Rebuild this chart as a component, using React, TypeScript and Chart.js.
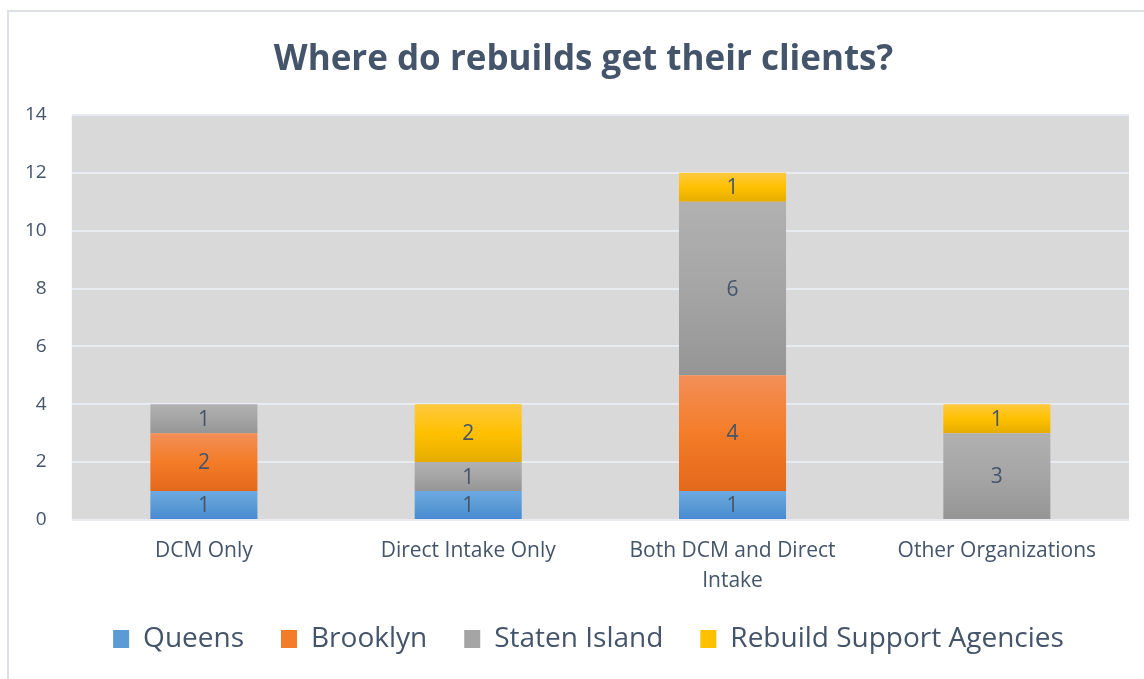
import React, { useEffect, useRef } from "react";
import { Chart, registerables } from "chart.js";

Chart.register(...registerables);

const categories: (string | string[])[] = [
  "DCM Only",
  "Direct Intake Only",
  ["Both DCM and Direct", "Intake"],
  "Other Organizations",
];
const seriesNames = ["Queens", "Brooklyn", "Staten Island", "Rebuild Support Agencies"];
const queens = [1, 1, 1, 0];
const brooklyn = [2, 0, 4, 0];
const statenIsland = [1, 1, 6, 3];
const rebuildSupport = [0, 2, 1, 1];
const yTicks = [0, 2, 4, 6, 8, 10, 12, 14];

const seriesData = [queens, brooklyn, statenIsland, rebuildSupport];
const palettes = [
  ["#6DA9E2", "#5B9BD5", "#4689D1"],
  ["#F28F58", "#F47C28", "#E4681A"],
  ["#B1B1B1", "#A5A5A5", "#959595"],
  ["#FFC93F", "#FFC000", "#E5AD00"],
];

const TEXT = "#44546A";
const FONT = "'Open Sans', 'Noto Sans', sans-serif";

const plotBg = {
  id: "plotBg",
  beforeDraw(chart: any) {
    const { ctx, chartArea } = chart;
    if (!chartArea) return;
    ctx.save();
    ctx.fillStyle = "#D9D9D9";
    ctx.fillRect(chartArea.left, chartArea.top, chartArea.right - chartArea.left, chartArea.bottom - chartArea.top);
    ctx.restore();
  },
};

// The original chart frame extends past the right edge of the picture,
// so its title and legend sit slightly right of the visible centre.
const shiftBlocks = {
  id: "shiftBlocks",
  afterLayout(chart: any) {
    const t = chart.titleBlock;
    if (t) {
      t.left += 19;
      t.right += 19;
    }
    const l = chart.legend;
    if (l) {
      l.left += 24;
      l.right += 24;
    }
  },
};

const valueLabels = {
  id: "valueLabels",
  afterDatasetsDraw(chart: any) {
    const { ctx } = chart;
    ctx.save();
    ctx.fillStyle = TEXT;
    ctx.font = `21px ${FONT}`;
    ctx.textAlign = "center";
    ctx.textBaseline = "middle";
    chart.data.datasets.forEach((ds: any, di: number) => {
      const meta = chart.getDatasetMeta(di);
      meta.data.forEach((el: any, i: number) => {
        const v = ds.data[i];
        if (!v) return;
        ctx.fillText(String(v), el.x, (el.y + el.base) / 2 + 1);
      });
    });
    ctx.restore();
  },
};

function gradientFor(di: number) {
  return (c: any) => {
    const pal = palettes[di];
    const chart = c.chart;
    const y = chart.scales && chart.scales.y;
    if (!y || c.type !== "data") return pal[1];
    const i = c.dataIndex;
    let base = 0;
    for (let d = 0; d < di; d++) base += seriesData[d][i];
    const v = seriesData[di][i];
    const top = y.getPixelForValue(base + v);
    const bottom = y.getPixelForValue(base);
    if (!isFinite(top) || !isFinite(bottom) || top === bottom) return pal[1];
    const g = chart.ctx.createLinearGradient(0, top, 0, bottom);
    g.addColorStop(0, pal[0]);
    g.addColorStop(0.5, pal[1]);
    g.addColorStop(1, pal[2]);
    return g;
  };
}

export default function App() {
  const ref = useRef<HTMLCanvasElement>(null);
  useEffect(() => {
    if (!ref.current) return;
    const chart = new Chart(ref.current, {
      type: "bar",
      data: {
        labels: categories,
        datasets: seriesData.map((d, di) => ({
          label: seriesNames[di],
          data: d,
          backgroundColor: gradientFor(di) as any,
          borderWidth: 0,
          categoryPercentage: 1,
          barPercentage: 0.405,
        })),
      },
      options: {
        responsive: false,
        animation: false,
        devicePixelRatio: 1,
        layout: { padding: { left: 0, right: 15, top: 0, bottom: 16 } },
        plugins: {
          title: {
            display: true,
            text: "Where do rebuilds get their clients?",
            color: TEXT,
            font: { family: FONT, size: 35, weight: "bold" },
            padding: { top: 39, bottom: 34 },
          },
          legend: {
            position: "bottom",
            labels: {
              color: TEXT,
              font: { family: FONT, size: 28 },
              boxWidth: 16,
              boxHeight: 18,
              padding: 37,
              generateLabels: (chart: any) =>
                chart.data.datasets.map((ds: any, i: number) => ({
                  text: ds.label,
                  fillStyle: palettes[i][1],
                  strokeStyle: palettes[i][1],
                  lineWidth: 0,
                  fontColor: TEXT,
                  datasetIndex: i,
                  hidden: false,
                })),
            },
          },
          tooltip: { enabled: false },
        },
        scales: {
          x: {
            stacked: true,
            grid: { display: false, drawTicks: false },
            border: { display: false },
            ticks: { color: TEXT, font: { family: FONT, size: 21, lineHeight: 1.43 }, padding: 16, maxRotation: 0 },
            afterFit: (scale: any) => {
              scale.height -= 24;
            },
          },
          y: {
            stacked: true,
            min: 0,
            max: 14,
            afterBuildTicks: (axis: any) => {
              axis.ticks = yTicks.map((v) => ({ value: v }));
            },
            grid: { color: "#E8EBEF", lineWidth: 2, drawTicks: false },
            border: { display: false },
            ticks: { color: TEXT, font: { family: FONT, size: 19 }, padding: 25 },
          },
        },
      },
      plugins: [plotBg, shiftBlocks, valueLabels],
    });
    return () => chart.destroy();
  }, []);
  return (
    <div style={{ position: "fixed", left: 0, top: 0, width: 1144, height: 679, background: "#fff", overflow: "hidden" }}>
      <div
        style={{
          position: "absolute",
          left: 7,
          top: 10,
          width: 1200,
          height: 700,
          borderLeft: "2px solid #DDE1E6",
          borderTop: "2px solid #DDE1E6",
        }}
      />
      <canvas ref={ref} width={1144} height={679} style={{ position: "absolute", left: 0, top: 0, width: 1144, height: 679 }} />
    </div>
  );
}
